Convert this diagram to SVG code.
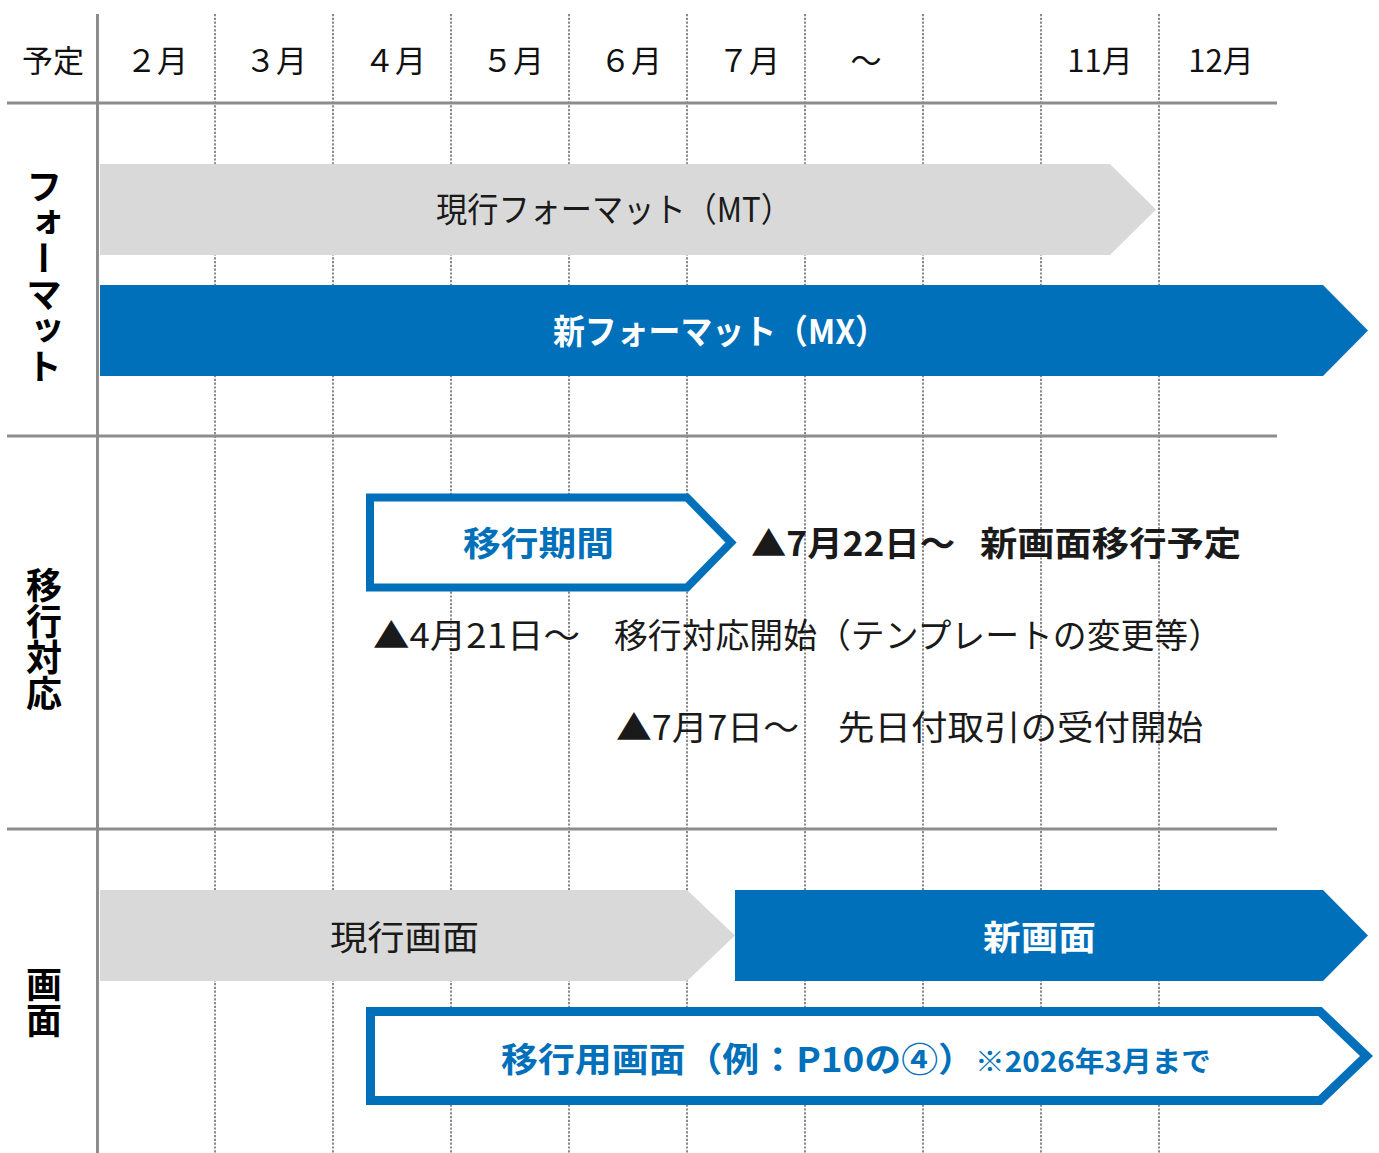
<svg xmlns="http://www.w3.org/2000/svg" width="1379" height="1153" viewBox="0 0 1379 1153">
<style>
text{font-family:"Noto Sans CJK JP","Noto Sans",sans-serif;}
.hd{font-size:31px;fill:#111;text-anchor:middle;}
.vl{font-size:36px;font-weight:bold;fill:#000;writing-mode:vertical-rl;}
.dot{stroke:#8a8a8a;stroke-width:2;stroke-dasharray:2.2 1.6;fill:none;}
.solid{stroke:#8c8c8c;stroke-width:3;fill:none;}
.gray{fill:#d9d9d9;}
.blue{fill:#0070ba;}
.outline{fill:#fff;stroke:#0070ba;stroke-linejoin:miter;}
.t34{font-size:34px;fill:#1a1a1a;}
.b{font-weight:bold;}
.w{fill:#fff;}
.bl{fill:#0070ba;}
</style>
<rect width="1379" height="1153" fill="#fff"/>
<g id="grid">
<line class="dot" x1="215" y1="14" x2="215" y2="1153"/>
<line class="dot" x1="333" y1="14" x2="333" y2="1153"/>
<line class="dot" x1="451" y1="14" x2="451" y2="1153"/>
<line class="dot" x1="569" y1="14" x2="569" y2="1153"/>
<line class="dot" x1="687" y1="14" x2="687" y2="1153"/>
<line class="dot" x1="805" y1="14" x2="805" y2="1153"/>
<line class="dot" x1="923" y1="14" x2="923" y2="1153"/>
<line class="dot" x1="1041" y1="14" x2="1041" y2="1153"/>
<line class="dot" x1="1159" y1="14" x2="1159" y2="1153"/>
<line class="solid" x1="7" y1="103" x2="1277" y2="103"/>
<line class="solid" x1="7" y1="436" x2="1277" y2="436"/>
<line class="solid" x1="7" y1="829" x2="1277" y2="829"/>
<line class="solid" x1="97.5" y1="14" x2="97.5" y2="1153"/>
</g>
<g id="header">
<text class="hd" x="53" y="72">予定</text>
<text class="hd" x="157" y="72">２月</text>
<text class="hd" x="276" y="72">３月</text>
<text class="hd" x="395" y="72">４月</text>
<text class="hd" x="513" y="72">５月</text>
<text class="hd" x="631" y="72">６月</text>
<text class="hd" x="749" y="72">７月</text>
<text class="hd" x="866" y="72">～</text>
<text class="hd" x="1100" y="72">11月</text>
<text class="hd" x="1221" y="72">12月</text>
</g>
<g id="row-labels">
<text class="vl" x="44" y="168">フォーマット</text>
<text class="vl" x="44" y="567">移行対応</text>
<text class="vl" x="44" y="966">画面</text>
</g>
<g id="node-current-format">
<polygon class="gray" points="100,164 1110,164 1156,209.5 1110,255 100,255"/>
<text class="t34" x="436" y="222" textLength="356" lengthAdjust="spacingAndGlyphs">現行フォーマット（MT）</text>
</g>
<g id="node-new-format">
<polygon class="blue" points="100,285 1323,285 1368,330.5 1323,376 100,376"/>
<text class="t34 b w" x="553" y="344" textLength="334" lengthAdjust="spacingAndGlyphs">新フォーマット（MX）</text>
</g>
<g id="node-transition-period">
<path class="outline" stroke-width="8" d="M370,497.5 H687 L731,542.5 L687,587.5 H370 Z"/>
<text class="t34 b bl" x="463" y="556" font-size="36" textLength="151" lengthAdjust="spacingAndGlyphs">移行期間</text>
</g>
<g id="note-0722">
<text class="t34 b" x="751" y="556" fill="#000" textLength="204" lengthAdjust="spacingAndGlyphs">▲7月22日～</text>
<text class="t34 b" x="980" y="556" fill="#000" textLength="261" lengthAdjust="spacingAndGlyphs">新画面移行予定</text>
</g>
<g id="note-0421">
<text class="t34" x="373" y="648" textLength="207" lengthAdjust="spacingAndGlyphs">▲4月21日～</text>
<text class="t34" x="614" y="648" textLength="608" lengthAdjust="spacingAndGlyphs">移行対応開始（テンプレートの変更等）</text>
</g>
<g id="note-0707">
<text class="t34" x="616" y="740" textLength="183" lengthAdjust="spacingAndGlyphs">▲7月7日～</text>
<text class="t34" x="838" y="740" textLength="365" lengthAdjust="spacingAndGlyphs">先日付取引の受付開始</text>
</g>
<g id="node-current-screen">
<polygon class="gray" points="100,890 687,890 735,935.5 687,981 100,981"/>
<text class="t34" x="330" y="950" font-size="36" textLength="149" lengthAdjust="spacingAndGlyphs">現行画面</text>
</g>
<g id="node-new-screen">
<polygon class="blue" points="735,890 1323,890 1368,935.5 1323,981 735,981"/>
<text class="t34 b w" x="983" y="950" font-size="36" textLength="113" lengthAdjust="spacingAndGlyphs">新画面</text>
</g>
<g id="node-transition-screen">
<path class="outline" stroke-width="9" d="M370.5,1011.5 H1320 L1366.5,1056 L1320,1100.5 H370.5 Z"/>
<text class="t34 b bl" x="501" y="1072" textLength="474" lengthAdjust="spacingAndGlyphs">移行用画面（例：P10の④）</text>
<text class="b bl" x="975" y="1072" font-size="28" textLength="236" lengthAdjust="spacingAndGlyphs">※2026年3月まで</text>
</g>
</svg>
